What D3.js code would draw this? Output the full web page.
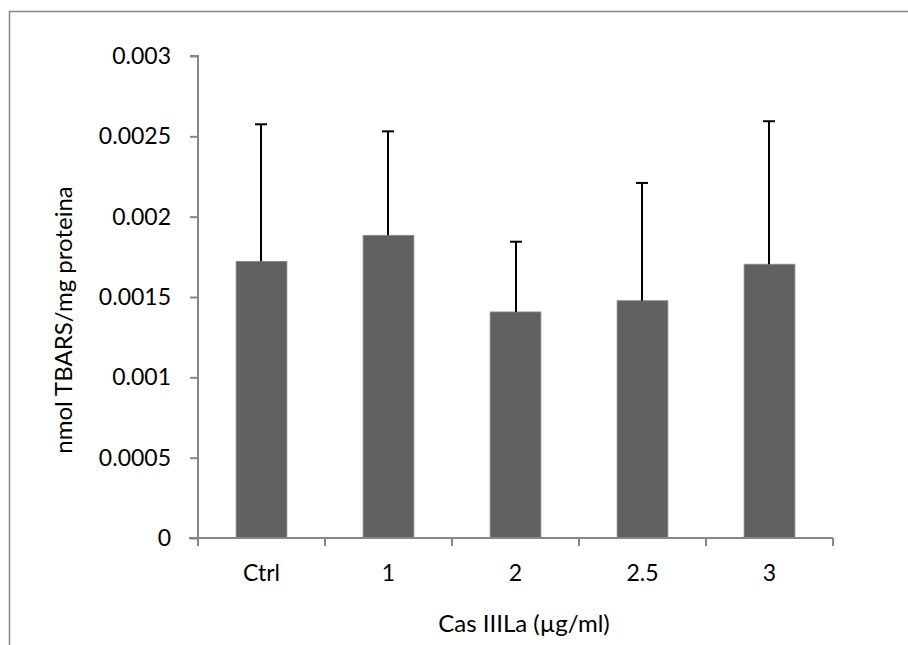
<!DOCTYPE html>
<html>
<head>
<meta charset="utf-8">
<script src="https://cdn.jsdelivr.net/npm/d3@7"></script>
<style>
  html, body { margin: 0; padding: 0; background: #fff; }
  svg { display: block; }
  text { font-family: Lato, "Open Sans", sans-serif; fill: #000; }
</style>
</head>
<body>
<svg id="chart" width="908" height="645"></svg>
<script>
const categories = ["Ctrl", "1", "2", "2.5", "3"];
const means = [0.001722, 0.001884, 0.001407, 0.001477, 0.001704];
const errors = [0.000853, 0.000647, 0.000437, 0.000733, 0.000890];
const yTicks = [0, 0.0005, 0.001, 0.0015, 0.002, 0.0025, 0.003];
const yTickLabels = ["0", "0.0005", "0.001", "0.0015", "0.002", "0.0025", "0.003"];
const xTitle = "Cas IIILa (µg/ml)";
const yTitle = "nmol TBARS/mg proteina";

const svg = d3.select("#chart");

// outer chart frame (top and left visible)
svg.append("rect").attr("x", 9.5).attr("y", 11.5).attr("width", 1000).attr("height", 1000)
  .attr("fill", "none").attr("stroke", "#868686").attr("stroke-width", 1.5);

const x0 = 198, x1 = 833, yTop = 56, yBot = 538;
const x = d3.scaleBand().domain(categories).range([x0, x1]).paddingInner(0.6).paddingOuter(0.3);
const y = d3.scaleLinear().domain([0, 0.003]).range([yBot, yTop]);

// bars
svg.append("g").selectAll("rect").data(categories).join("rect")
  .attr("x", d => x(d))
  .attr("y", (d, i) => y(means[i]))
  .attr("width", x.bandwidth())
  .attr("height", (d, i) => yBot - y(means[i]))
  .attr("fill", "#606060")
  .attr("stroke", "#8a8a8a").attr("stroke-width", 0.8);

// error bars (upper only)
const eb = svg.append("g").attr("stroke", "#000").attr("stroke-width", 2);
categories.forEach((c, i) => {
  const cx = Math.round(x(c) + x.bandwidth() / 2);
  eb.append("line").attr("x1", cx).attr("x2", cx).attr("y1", y(means[i])).attr("y2", y(means[i] + errors[i]));
  eb.append("line").attr("x1", cx - 6).attr("x2", cx + 6).attr("y1", y(means[i] + errors[i])).attr("y2", y(means[i] + errors[i]));
});

// y axis
const yAxis = d3.axisLeft(y).tickValues(yTicks).tickFormat((d, i) => yTickLabels[i]).tickSize(8).tickPadding(19);
const gy = svg.append("g").attr("transform", `translate(${x0},0)`).call(yAxis);
gy.select(".domain").attr("stroke", "#868686").attr("stroke-width", 2).attr("d", `M-8,${yTop}H0V${yBot}H-8`);
gy.selectAll(".tick line").attr("stroke", "#868686").attr("stroke-width", 2);
gy.selectAll(".tick text").style("font-size", "23px").style("font-family", "Lato, 'Open Sans', sans-serif").attr("fill", "#000");

// x axis
const gx = svg.append("g").attr("transform", `translate(0,${yBot})`);
gx.append("line").attr("x1", x0 - 9).attr("x2", x1).attr("y1", 0).attr("y2", 0)
  .attr("stroke", "#868686").attr("stroke-width", 2);
const boundaries = categories.map(c => x(c) - x.step() * x.paddingInner() / 2).concat([x1]);
boundaries[0] = x0;
gx.selectAll("line.b").data(boundaries).join("line").attr("class", "b")
  .attr("x1", d => d).attr("x2", d => d).attr("y1", 0).attr("y2", 8)
  .attr("stroke", "#868686").attr("stroke-width", 2);
gx.selectAll("text").data(categories).join("text")
  .attr("x", d => x(d) + x.bandwidth() / 2)
  .attr("y", 43)
  .attr("text-anchor", "middle")
  .style("font-size", "23px")
  .text(d => d);

// axis titles
svg.append("text").attr("x", 524).attr("y", 632).attr("text-anchor", "middle")
  .style("font-size", "24px").text(xTitle);
svg.append("text").attr("transform", "translate(72,320) rotate(-90)").attr("text-anchor", "middle")
  .style("font-size", "24px").text(yTitle);
</script>
</body>
</html>
